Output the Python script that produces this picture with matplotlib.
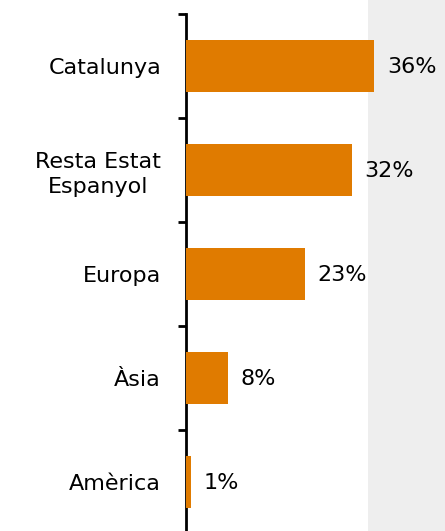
import matplotlib
matplotlib.use("Agg")
import matplotlib.pyplot as plt

categories = ["Catalunya", "Resta Estat\nEspanyol", "Europa", "Àsia", "Amèrica"]
values = [35.9, 31.6, 22.6, 8.0, 0.9]

W, H = 445, 531
fig = plt.figure(figsize=(W / 100, H / 100), dpi=100)
bg = fig.add_axes([368 / W, 0, 1 - 368 / W, 1], zorder=-5)
bg.set_facecolor("#EEEEEE")
bg.set_xticks([])
bg.set_yticks([])
for s in bg.spines.values():
    s.set_visible(False)

ax = fig.add_axes([186 / W, -3 / H, 1 - 186 / W, (517 + 3) / H], zorder=1)
ax.set_facecolor("none")
ypos = list(range(len(categories)))
ax.barh(ypos, values, height=0.5, color="#E07B00", zorder=3)
ax.set_ylim(len(categories) - 0.5, -0.5)
ax.set_xlim(0, (W - 186) / 5.25)

for y, v in zip(ypos, values):
    ax.annotate(f"{v:.0f}%", (v, y), xytext=(9, -1), textcoords="offset points",
                va="center", ha="left", fontsize=16, color="black")

ax.set_yticks(ypos)
ax.set_yticklabels(categories, fontsize=16, linespacing=1.3)
ax.tick_params(axis="y", which="major", length=0, pad=18)
ax.set_yticks([i - 0.5 for i in range(len(categories) + 1)], minor=True)
ax.tick_params(axis="y", which="minor", length=6, width=2, color="black")
for lbl in ax.get_yticklabels():
    lbl.set_horizontalalignment("right")
    lbl.set_multialignment("center")

ax.set_xticks([])
for s in ["top", "right", "bottom"]:
    ax.spines[s].set_visible(False)
ax.spines["left"].set_linewidth(2)
ax.spines["left"].set_color("black")

fig.savefig("out.png", dpi=100)
